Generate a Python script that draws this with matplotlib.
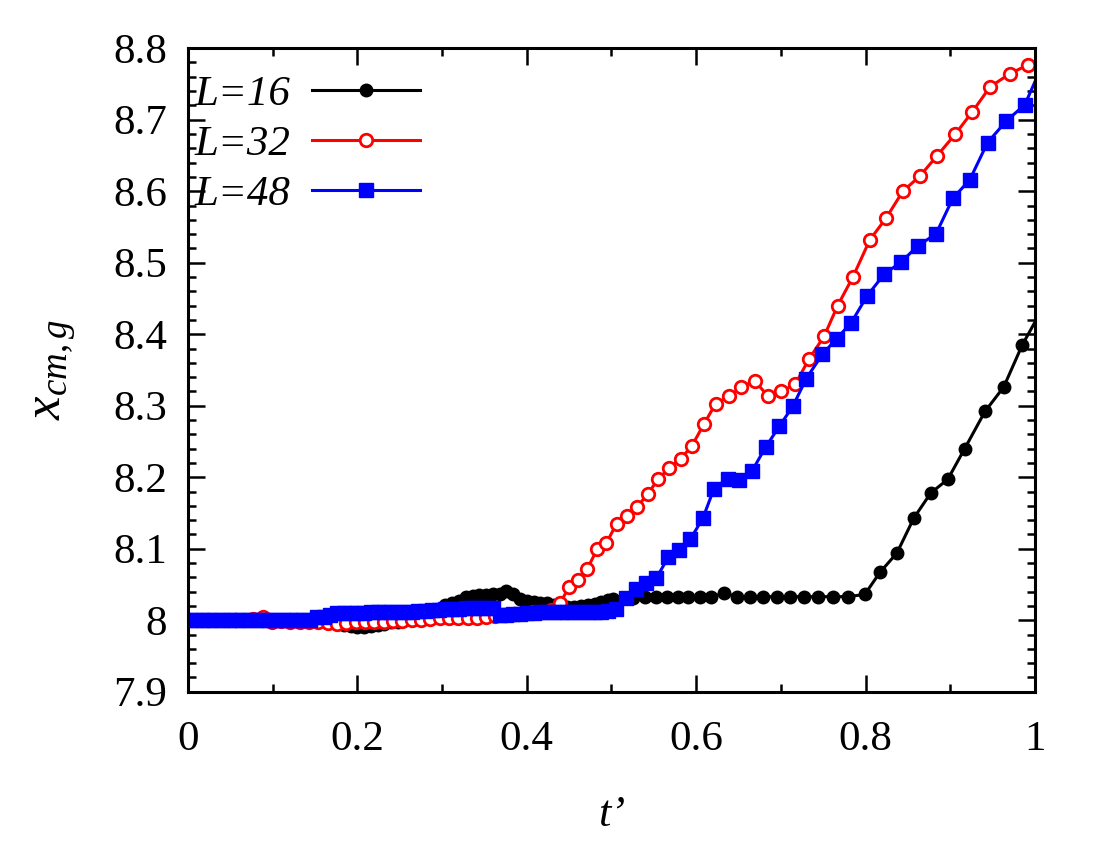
import matplotlib
matplotlib.use('Agg')
import matplotlib.pyplot as plt
from matplotlib.ticker import MultipleLocator, FuncFormatter

# L=16 series
t16 = [0.000, 0.008, 0.016, 0.024, 0.032, 0.040, 0.048, 0.056, 0.064, 0.072,
       0.080, 0.088, 0.096, 0.104, 0.112, 0.120, 0.128, 0.136, 0.144, 0.152,
       0.160, 0.168, 0.176, 0.184, 0.192, 0.200, 0.208, 0.216, 0.224, 0.232,
       0.240, 0.248, 0.256, 0.264, 0.272, 0.280, 0.288, 0.296, 0.304, 0.312,
       0.320, 0.328, 0.336, 0.344, 0.352, 0.360, 0.368, 0.376, 0.384, 0.392,
       0.400, 0.408, 0.416, 0.424, 0.432, 0.440, 0.448, 0.456, 0.464, 0.472,
       0.480, 0.488, 0.496,
       0.502, 0.525, 0.539, 0.553, 0.565, 0.579, 0.590, 0.604, 0.617, 0.633,
       0.648, 0.664, 0.679, 0.695, 0.711, 0.727, 0.744, 0.762, 0.779, 0.799,
       0.817, 0.837, 0.857, 0.877, 0.897, 0.917, 0.941, 0.963, 0.985, 1.007]
x16 = [8.000, 8.000, 8.000, 8.000, 8.000, 8.000, 8.000, 8.000, 8.000, 8.000,
       8.000, 8.000, 8.000, 8.000, 8.000, 8.000, 8.000, 8.000, 8.000, 8.000,
       7.999, 7.997, 7.995, 7.993, 7.992, 7.991, 7.991, 7.992, 7.993, 7.995,
       7.997, 7.998, 8.000, 8.002, 8.004, 8.008, 8.010, 8.012, 8.021, 8.024,
       8.027, 8.033, 8.034, 8.035, 8.035, 8.036, 8.037, 8.041, 8.037, 8.030,
       8.027, 8.025, 8.024, 8.024, 8.021, 8.020, 8.019, 8.019, 8.020, 8.021,
       8.023, 8.025, 8.028,
       8.030, 8.031, 8.032, 8.032, 8.032, 8.032, 8.032, 8.032, 8.032, 8.038,
       8.033, 8.033, 8.033, 8.033, 8.033, 8.033, 8.033, 8.033, 8.033, 8.036,
       8.067, 8.094, 8.143, 8.178, 8.197, 8.240, 8.292, 8.326, 8.385, 8.432]

# L=32 series
t32 = [0.000, 0.011, 0.022, 0.033, 0.044, 0.055, 0.066, 0.077, 0.088, 0.099,
       0.110, 0.121, 0.132, 0.143, 0.154, 0.165, 0.176, 0.187, 0.198, 0.209,
       0.220, 0.231, 0.242, 0.253, 0.264, 0.275, 0.286, 0.297, 0.308, 0.319,
       0.330, 0.341, 0.352, 0.363, 0.374, 0.385, 0.396, 0.407, 0.418, 0.429,
       0.439, 0.450, 0.461, 0.471, 0.483, 0.494, 0.506, 0.518, 0.530, 0.543,
       0.555, 0.568, 0.582, 0.595, 0.609, 0.623, 0.639, 0.653, 0.669, 0.685,
       0.700, 0.717, 0.733, 0.751, 0.767, 0.785, 0.805, 0.824, 0.844, 0.864,
       0.884, 0.906, 0.926, 0.947, 0.970, 0.992]
x32 = [8.000, 8.000, 8.000, 8.000, 8.000, 8.000, 8.000, 8.002, 8.004, 7.997,
       7.999, 7.998, 7.997, 7.997, 7.998, 7.996, 7.995, 7.996, 7.997, 7.997,
       7.998, 7.998, 7.999, 7.999, 8.000, 8.001, 8.002, 8.003, 8.003, 8.003,
       8.003, 8.003, 8.004, 8.006, 8.008, 8.009, 8.010, 8.011, 8.012, 8.015,
       8.024, 8.046, 8.056, 8.071, 8.099, 8.108, 8.135, 8.146, 8.158, 8.177,
       8.197, 8.213, 8.226, 8.244, 8.274, 8.303, 8.313, 8.326, 8.335, 8.313,
       8.320, 8.330, 8.365, 8.397, 8.440, 8.480, 8.532, 8.562, 8.600, 8.621,
       8.649, 8.680, 8.711, 8.746, 8.764, 8.777]

# L=48 series
t48 = [0.000, 0.008, 0.016, 0.024, 0.032, 0.040, 0.048, 0.056, 0.064, 0.072,
       0.080, 0.088, 0.096, 0.104, 0.112, 0.120, 0.128, 0.136, 0.144, 0.152,
       0.160, 0.168, 0.176, 0.184, 0.192, 0.200, 0.208, 0.216, 0.224, 0.232,
       0.240, 0.248, 0.256, 0.264, 0.272, 0.280, 0.288, 0.296, 0.304, 0.312,
       0.320, 0.328, 0.336, 0.344, 0.352, 0.360, 0.368, 0.376, 0.384, 0.392,
       0.400, 0.408, 0.416, 0.424, 0.432, 0.440, 0.448, 0.456, 0.464, 0.472,
       0.480, 0.488, 0.496,
       0.505, 0.517, 0.529, 0.541, 0.553, 0.567, 0.580, 0.593, 0.608, 0.621,
       0.637, 0.651, 0.666, 0.682, 0.698, 0.714, 0.730, 0.749, 0.766, 0.783,
       0.802, 0.822, 0.842, 0.862, 0.883, 0.903, 0.923, 0.944, 0.966, 0.988,
       1.010]
x48 = [8.000, 8.000, 8.000, 8.000, 8.000, 8.000, 8.000, 8.000, 8.000, 8.000,
       8.000, 8.000, 8.000, 8.000, 8.000, 8.000, 8.000, 8.000, 8.000, 8.004,
       8.004, 8.008, 8.010, 8.010, 8.010, 8.010, 8.010, 8.011, 8.011, 8.011,
       8.011, 8.011, 8.012, 8.012, 8.013, 8.013, 8.014, 8.014, 8.016, 8.016,
       8.016, 8.017, 8.017, 8.017, 8.017, 8.017, 8.008, 8.008, 8.009, 8.009,
       8.010, 8.010, 8.011, 8.011, 8.011, 8.012, 8.012, 8.012, 8.012, 8.012,
       8.012, 8.012, 8.013,
       8.016, 8.031, 8.043, 8.052, 8.059, 8.088, 8.098, 8.113, 8.143, 8.184,
       8.198, 8.196, 8.209, 8.242, 8.271, 8.299, 8.338, 8.372, 8.394, 8.416,
       8.454, 8.484, 8.501, 8.524, 8.540, 8.590, 8.616, 8.668, 8.698, 8.721,
       8.780]

labels = ['L=16', 'L=32', 'L=48']

plt.rcParams['font.family'] = ['Liberation Serif', 'DejaVu Serif']
plt.rcParams['mathtext.fontset'] = 'custom'
plt.rcParams['mathtext.rm'] = 'Liberation Serif'
plt.rcParams['mathtext.it'] = 'Liberation Serif:italic'

fig = plt.figure(figsize=(11, 8.5), dpi=100)
ax = fig.add_axes([0.1709, 0.1862, 0.77, 0.7571])

ax.plot(t16, x16, '-', color='black', lw=2.2, marker='o', ms=9,
        mfc='black', mec='black', label=labels[0])
ax.plot(t32, x32, '-', color='red', lw=2.2, marker='o', ms=9,
        mfc='white', mec='red', mew=2.0, label=labels[1])
ax.plot(t48, x48, '-', color='blue', lw=2.2, marker='s', ms=9.5,
        mfc='blue', mec='blue', label=labels[2])

ax.set_xlim(0, 1)
ax.set_ylim(7.9, 8.8)
ax.xaxis.set_major_locator(MultipleLocator(0.2))
ax.xaxis.set_minor_locator(MultipleLocator(0.1))
ax.yaxis.set_major_locator(MultipleLocator(0.1))
ax.yaxis.set_minor_locator(MultipleLocator(0.02))
fmt = FuncFormatter(lambda v, p: '%g' % round(v, 6))
ax.xaxis.set_major_formatter(fmt)
ax.yaxis.set_major_formatter(fmt)

ax.tick_params(which='both', direction='in', top=True, right=True, width=1.8)
ax.tick_params(which='major', length=12, labelsize=31)
ax.tick_params(which='minor', length=6)
ax.tick_params(axis='x', which='major', pad=21)
ax.tick_params(axis='y', which='major', pad=15)
for s in ax.spines.values():
    s.set_linewidth(2.2)

ax.set_xlabel('t\u2019', fontsize=32, fontstyle='italic')
ax.xaxis.set_label_coords(0.5, -0.16)
ax.set_ylabel(r'$x_{cm,g}$', fontsize=38)
ax.yaxis.set_label_coords(-0.13, 0.5)

leg = ax.legend(loc='upper left', bbox_to_anchor=(0.008, 0.958), frameon=False,
                markerfirst=False, numpoints=1, handlelength=2.5,
                handletextpad=0.5, labelspacing=0.25, borderpad=0, borderaxespad=0,
                prop={'family': 'Liberation Serif', 'style': 'italic', 'size': 31})

fig.savefig('out.png', dpi=100)
